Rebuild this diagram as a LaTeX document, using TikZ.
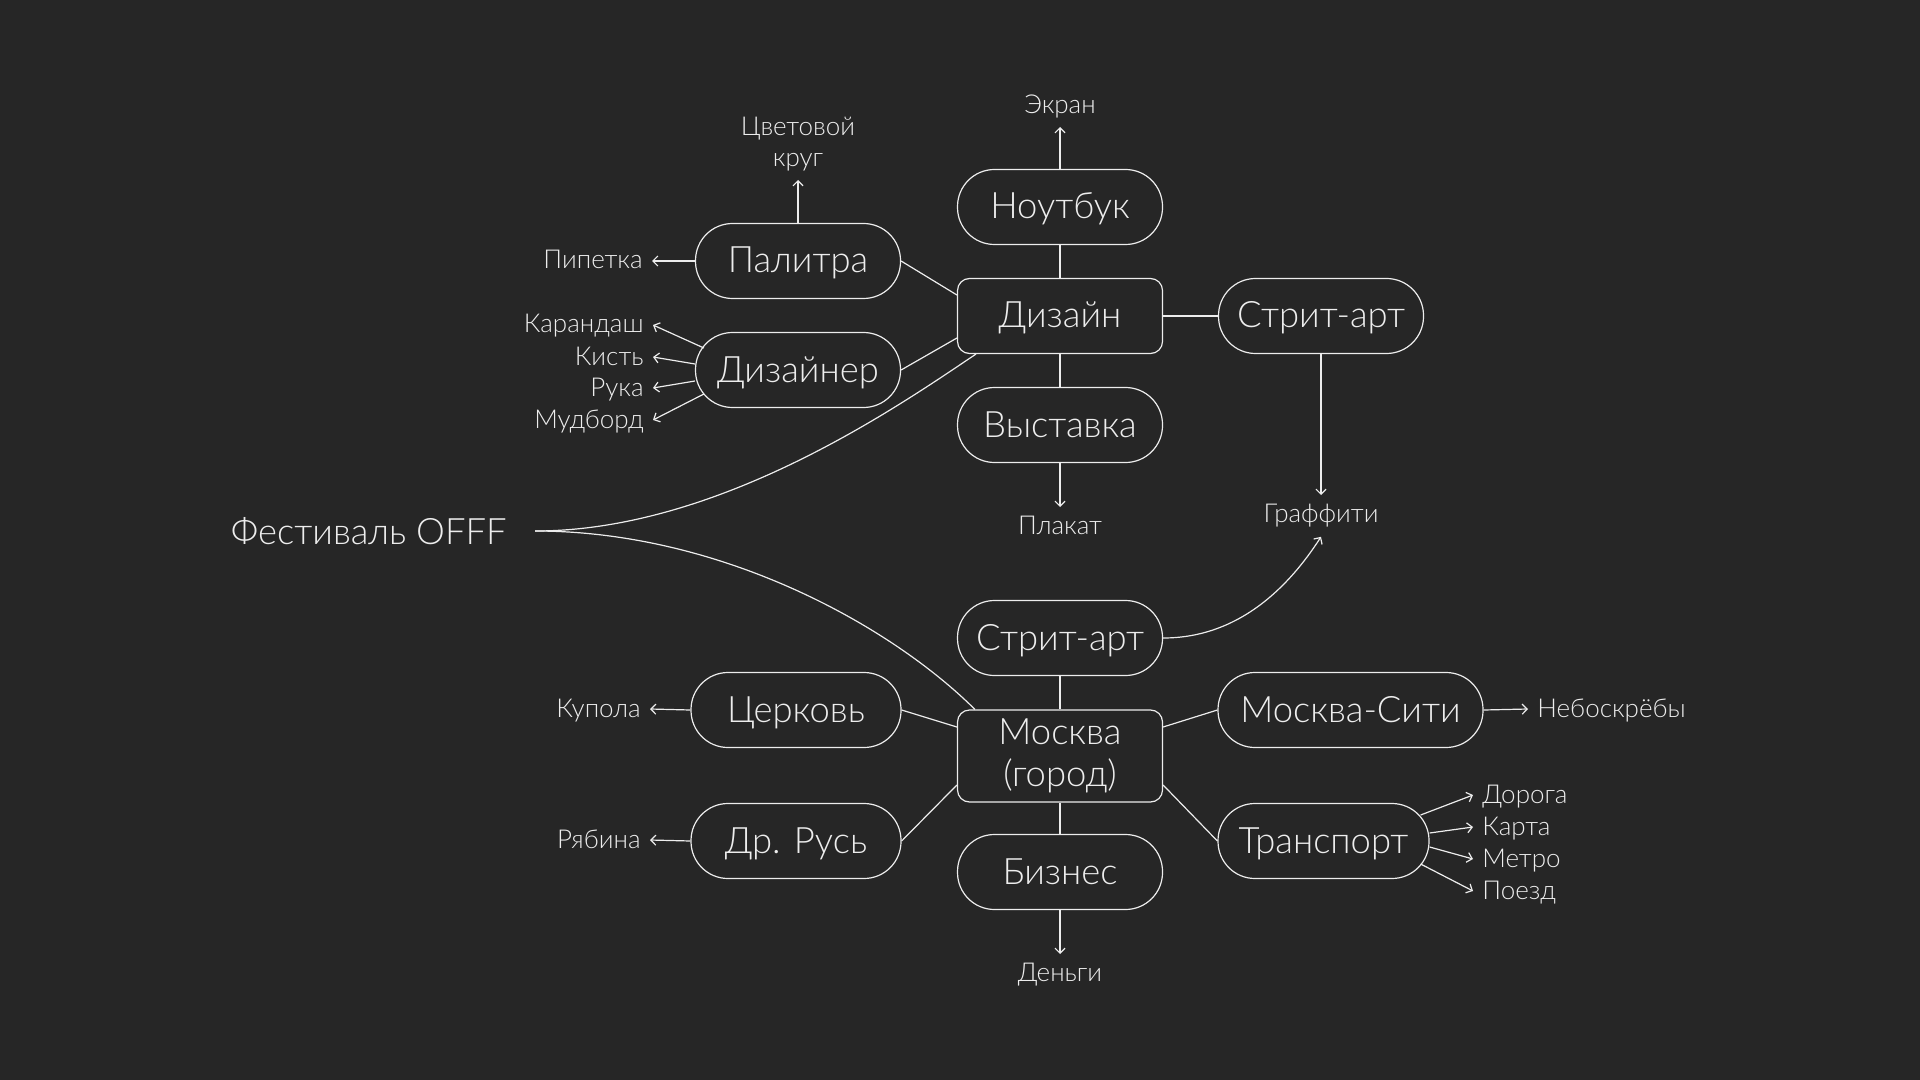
\documentclass[tikz,border=0pt]{standalone}
\usepackage{fontspec}
\setmainfont{Lato Light}
\usetikzlibrary{arrows.meta,calc}
\definecolor{bg}{HTML}{262626}
\definecolor{fg}{HTML}{EDEDED}
\begin{document}
\begin{tikzpicture}[x=0.5pt,y=-0.5pt,
  pill/.style={draw=fg, text=fg, line width=0.6pt, rounded corners=18.5pt, minimum width=102.5pt, minimum height=37.5pt, inner sep=0pt, font=\fontsize{18.2}{21}\selectfont, align=center, text height=12.5pt, text depth=0.5pt},
  hub/.style={pill, rounded corners=6pt},
  lbl/.style={text=fg, inner sep=4.5pt, font=\fontsize{13}{15.5}\selectfont, align=center},
  side/.style={lbl, text height=8pt, text depth=0pt},
  ln/.style={draw=fg, line width=0.6pt},
  arr/.style={ln, -{Straight Barb[length=2.5pt,width=5pt]}},
]
\fill[bg] (0,0) rectangle (1920,1080);
% design cluster
\node[pill] (nout) at (1060,207) {Ноутбук};
\node[hub]  (dzn)  at (1060,316) {Дизайн};
\node[pill] (vys)  at (1060,425) {Выставка};
\node[pill] (sa1)  at (1321,316) {Стрит-арт};
\node[pill] (pal)  at (798,261) {Палитра};
\node[pill] (dzr)  at (798,370) {Дизайнер};
% moscow cluster
\node[pill] (sa2)  at (1060,638) {Стрит-арт};
\node[hub, minimum height=46pt, text height={}, text depth={}] (msk) at (1060,756) {Москва\\(город)};
\node[pill] (biz)  at (1060,872) {Бизнес};
\node[pill, minimum width=105pt] (cer) at (796,710) {Церковь};
\node[pill, minimum width=105pt] (rus) at (796,841) {Др. Русь};
\node[pill, minimum width=132.5pt] (msc) at (1350.5,710) {Москва-Сити};
\node[pill, minimum width=105.5pt] (trn) at (1323.5,841) {Транспорт};
% festival
\node[text=fg, inner xsep=14pt, inner ysep=0pt, font=\fontsize{18.2}{21}\selectfont, anchor=east] (fest) at (535,531) {Фестиваль OFFF};
% labels
\node[lbl, anchor=south] (ekr) at (1060,127) {Экран};
\node[lbl, anchor=south] (cvk) at (798,180) {Цветовой\\круг};
\node[side, anchor=east] (pip) at (652,261) {Пипетка};
\node[side, anchor=east] (krd) at (653,325) {Карандаш};
\node[side, anchor=east] (kis) at (653,357) {Кисть};
\node[side, anchor=east] (ruk) at (653,388) {Рука};
\node[side, anchor=east] (mud) at (653,420) {Мудборд};
\node[lbl, anchor=north] (plk) at (1060,507) {Плакат};
\node[lbl, anchor=north] (grf) at (1321,495) {Граффити};
\node[lbl, anchor=north] (den) at (1060,954) {Деньги};
\node[side, anchor=east] (kup) at (650,709) {Купола};
\node[side, anchor=east] (ryb) at (650,840) {Рябина};
\node[side, anchor=west] (neb) at (1528,709) {Небоскрёбы};
\node[side, anchor=west] (dor) at (1473,795) {Дорога};
\node[side, anchor=west] (krt) at (1473,827) {Карта};
\node[side, anchor=west] (met) at (1473,859) {Метро};
\node[side, anchor=west] (poe) at (1473,891) {Поезд};
% design connectors
\draw[ln] (nout.south) -- (dzn.north);
\draw[ln] (dzn.south) -- (vys.north);
\draw[ln] (dzn.east) -- (sa1.west);
\draw[ln] (pal.east) -- ($(dzn.west)+(0,-21)$);
\draw[ln] (dzr.east) -- ($(dzn.west)+(0,22)$);
\draw[arr] (nout.north) -- (ekr.south);
\draw[arr] (pal.north) -- (cvk.south);
\draw[arr] (pal.west) -- (pip.east);
\draw[arr] ($(dzr.west)+(9,-22)$) -- (krd.east);
\draw[arr] ($(dzr.west)+(0,-6)$) -- (kis.east);
\draw[arr] ($(dzr.west)+(0,11)$) -- (ruk.east);
\draw[arr] ($(dzr.west)+(9,24)$) -- (mud.east);
\draw[arr] (vys.south) -- (plk.north);
\draw[arr] (sa1.south) -- (grf.north);
% moscow connectors
\draw[ln] (sa2.south) -- (msk.north);
\draw[ln] (msk.south) -- (biz.north);
\draw[ln] (cer.east) -- ($(msk.west)+(0,-29)$);
\draw[ln] (rus.east) -- ($(msk.west)+(0,29)$);
\draw[ln] (msc.west) -- ($(msk.east)+(0,-29)$);
\draw[ln] (trn.west) -- ($(msk.east)+(0,29)$);
\draw[arr] (biz.south) -- (den.north);
\draw[arr] (cer.west) -- (kup.east);
\draw[arr] (rus.west) -- (ryb.east);
\draw[arr] (msc.east) -- (neb.west);
\draw[arr] ($(trn.east)+(-9,-26)$) -- (dor.west);
\draw[arr] ($(trn.east)+(0,-8)$) -- (krt.west);
\draw[arr] ($(trn.east)+(0,6)$) -- (met.west);
\draw[arr] ($(trn.east)+(-9,23)$) -- (poe.west);
\draw[arr] (sa2.east) .. controls (1240,638) and (1290,585) .. (grf.south);
% festival curves
\draw[ln] (fest.east) .. controls (720,531) and (900,405) .. ($(dzn.south west)+(19,0)$);
\draw[ln] (fest.east) .. controls (720,531) and (890,625) .. ($(msk.north west)+(18,0)$);
\end{tikzpicture}
\end{document}
